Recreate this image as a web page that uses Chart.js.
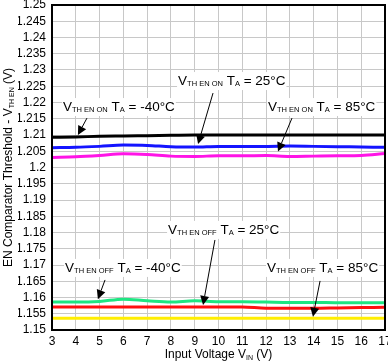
<!DOCTYPE html>
<html>
<head>
<meta charset="utf-8">
<script src="https://cdn.jsdelivr.net/npm/chart.js@4/dist/chart.umd.min.js"></script>
<style>
  html, body { margin: 0; padding: 0; background: #fff; }
  #wrap { width: 388px; height: 364px; }
</style>
</head>
<body>
<div id="wrap"><canvas id="enChart" width="388" height="364"></canvas></div>
<script>
// input voltage (V)
var vin = [3, 4, 5, 6, 7, 8, 9, 10, 11, 12, 13, 14, 15, 16, 17];

// threshold readings (V)
var onCold = [1.2093, 1.2094, 1.2096, 1.2097, 1.2098, 1.2099, 1.2100, 1.2100, 1.2100, 1.2100, 1.2100, 1.2100, 1.2100, 1.2100, 1.2100];
var onRoom = [1.2061, 1.2062, 1.2065, 1.2069, 1.2068, 1.2064, 1.2063, 1.2065, 1.2065, 1.2065, 1.2066, 1.2065, 1.2064, 1.2063, 1.2062];
var onHot  = [1.2031, 1.2033, 1.2037, 1.2042, 1.2040, 1.2035, 1.2034, 1.2036, 1.2036, 1.2037, 1.2034, 1.2035, 1.2036, 1.2037, 1.2043];
var offRoom = [1.1586, 1.1586, 1.1588, 1.1595, 1.1590, 1.1586, 1.1590, 1.1587, 1.1587, 1.1586, 1.1585, 1.1585, 1.1584, 1.1584, 1.1584];
var offCold = [1.1571, 1.1571, 1.1571, 1.1571, 1.1571, 1.1571, 1.1571, 1.1571, 1.1571, 1.1567, 1.1567, 1.1567, 1.1568, 1.1569, 1.1570];
var offHot  = [1.1536, 1.1536, 1.1536, 1.1536, 1.1536, 1.1536, 1.1536, 1.1536, 1.1536, 1.1536, 1.1536, 1.1536, 1.1536, 1.1536, 1.1536];

// callouts: [sub, temp, label x, label y, arrow start x, y, arrow tip x, y] in data units
var callouts = [
  ['TH EN ON', '-40', 3.46, 1.2186, 4.47, 1.2152, 4.09, 1.2100],
  ['TH EN ON', '25', 8.30, 1.2266, 9.77, 1.2229, 9.14, 1.2072],
  ['TH EN ON', '85', 12.08, 1.2186, 13.09, 1.2152, 12.50, 1.2049],
  ['TH EN OFF', '25', 7.88, 1.1808, 9.85, 1.1777, 9.35, 1.1577],
  ['TH EN OFF', '-40', 3.55, 1.1691, 5.23, 1.1654, 4.93, 1.1595],
  ['TH EN OFF', '85', 12.04, 1.1691, 14.27, 1.1651, 13.97, 1.1541]
];

var FONT = '"Liberation Sans", Arial, sans-serif';

function pts(arr) {
  return arr.map(function(v, i) { return {x: vin[i], y: v}; });
}

// draws a run of [text, size, dy] pieces, returns total width
function drawRich(ctx, parts, x, y, measureOnly) {
  var w = 0;
  parts.forEach(function(p) {
    ctx.font = p[1] + 'px ' + FONT;
    if (!measureOnly) ctx.fillText(p[0], x + w, y + p[2]);
    w += ctx.measureText(p[0]).width;
  });
  return w;
}

var overlay = {
  id: 'overlay',
  afterDatasetsDraw: function(chart) {
    var ctx = chart.ctx;
    var xs = chart.scales.x, ys = chart.scales.y;
    var a = chart.chartArea;
    ctx.save();
    // frame
    ctx.strokeStyle = '#000';
    ctx.lineWidth = 2;
    ctx.strokeRect(a.left, a.top, a.right - a.left, a.bottom - a.top);

    ctx.textBaseline = 'middle';
    ctx.fillStyle = '#000';
    callouts.forEach(function(c) {
      var parts = [['V', 13.5, 0], [c[0], 7.5, 3], [' T', 13.5, 0], ['A', 7.5, 3], [' = ' + c[1] + '\u00B0C', 13.5, 0]];
      var lx = xs.getPixelForValue(c[2]), ly = ys.getPixelForValue(c[3]);
      var w = drawRich(ctx, parts, lx, ly, true);
      ctx.fillStyle = '#fff';
      ctx.fillRect(lx - 1, ly - 9, w + 2, 18);
      ctx.fillStyle = '#000';
      drawRich(ctx, parts, lx, ly);

      var x0 = xs.getPixelForValue(c[4]), y0 = ys.getPixelForValue(c[5]);
      var x1 = xs.getPixelForValue(c[6]), y1 = ys.getPixelForValue(c[7]);
      var ang = Math.atan2(y1 - y0, x1 - x0);
      var hl = 9, hw = 4.5;
      var bx = x1 - hl * Math.cos(ang), by = y1 - hl * Math.sin(ang);
      ctx.strokeStyle = '#000';
      ctx.lineWidth = 1;
      ctx.beginPath();
      ctx.moveTo(x0, y0);
      ctx.lineTo(bx, by);
      ctx.stroke();
      ctx.beginPath();
      ctx.moveTo(x1, y1);
      ctx.lineTo(bx + hw * Math.sin(ang), by - hw * Math.cos(ang));
      ctx.lineTo(bx - hw * Math.sin(ang), by + hw * Math.cos(ang));
      ctx.closePath();
      ctx.fill();
    });

    // axis titles
    ctx.fillStyle = '#000';
    var xt = [['Input Voltage V', 12, 0], ['IN', 7, 3], [' (V)', 12, 0]];
    var xw = drawRich(ctx, xt, 0, 0, true);
    drawRich(ctx, xt, (a.left + a.right) / 2 - xw / 2, 355);

    var yt = [['EN Comparator Threshold - V', 12, 0], ['TH EN', 7, 3], [' (V)', 12, 0]];
    var yw = drawRich(ctx, yt, 0, 0, true);
    ctx.translate(9, (a.top + a.bottom) / 2);
    ctx.rotate(-Math.PI / 2);
    drawRich(ctx, yt, -yw / 2, 0);
    ctx.restore();
  }
};

function ds(data, color) {
  return {
    data: pts(data),
    borderColor: color,
    borderWidth: 3,
    pointRadius: 0,
    fill: false,
    cubicInterpolationMode: 'monotone'
  };
}

new Chart(document.getElementById('enChart').getContext('2d'), {
  type: 'line',
  data: {
    datasets: [
      ds(onCold, '#000000'),
      ds(onRoom, '#1414ff'),
      ds(onHot, '#ff14e6'),
      ds(offRoom, '#1ee682'),
      ds(offCold, '#ff1010'),
      ds(offHot, '#ffee00')
    ]
  },
  options: {
    responsive: false,
    animation: false,
    layout: { padding: { left: 18, top: 5, right: 3, bottom: 14 } },
    plugins: { legend: { display: false }, tooltip: { enabled: false } },
    scales: {
      x: {
        type: 'linear',
        min: 3,
        max: 17,
        ticks: { stepSize: 1, autoSkip: false, color: '#000', padding: 4, font: { family: FONT, size: 12 }, maxRotation: 0 },
        grid: { color: '#c8c8c8', lineWidth: 1, drawTicks: false },
        border: { color: '#000', width: 2 },
        afterFit: function(s) { s.height = 20; s.paddingLeft = 0; s.paddingRight = 0; }
      },
      y: {
        min: 1.15,
        max: 1.25,
        ticks: {
          stepSize: 0.005,
          autoSkip: false,
          color: '#000',
          padding: 6,
          font: { family: FONT, size: 12 },
          callback: function(v) { return parseFloat(v.toFixed(3)).toString(); }
        },
        grid: { color: '#c8c8c8', lineWidth: 1, drawTicks: false },
        border: { color: '#000', width: 2 },
        afterFit: function(s) { s.width = 34; s.paddingTop = 0; s.paddingBottom = 0; }
      }
    }
  },
  plugins: [overlay]
});
</script>
</body>
</html>
